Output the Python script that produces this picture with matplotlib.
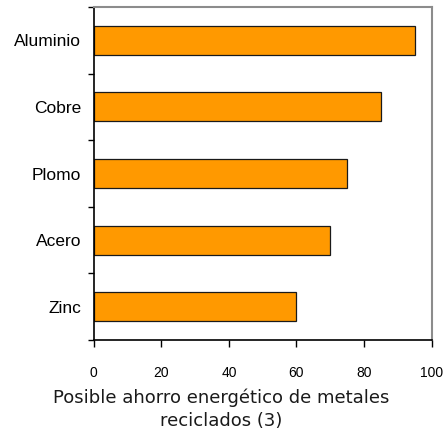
import matplotlib.pyplot as plt
import numpy as np

metales = ['Aluminio', 'Cobre', 'Plomo', 'Acero', 'Zinc']
ahorro = [95, 85, 75, 70, 60]
xticks = [0, 20, 40, 60, 80, 100]

sans = ['Liberation Sans', 'DejaVu Sans']

fig = plt.figure(figsize=(4.43, 4.28), dpi=100)
ax = fig.add_axes([0.2115, 0.2056, 0.763, 0.778])

ypos = np.arange(len(metales))
ax.barh(ypos, ahorro, height=0.435, color='#FF9900', edgecolor='#1a1a1a', linewidth=0.9, zorder=2)

ax.set_xlim(0, 100)
ax.set_ylim(len(metales) - 0.5, -0.5)

# category ticks sit between bars, labels centred on bars
ax.set_yticks(np.arange(-0.5, len(metales)), minor=False)
ax.set_yticklabels([])
ax.set_yticks(ypos, minor=True)
ax.set_yticklabels(metales, minor=True, family=sans, fontsize=12.5)
ax.tick_params(axis='y', which='minor', length=0, pad=9)
ax.tick_params(axis='y', which='major', length=4, width=1, direction='out', color='black')

ax.set_xticks(xticks)
ax.set_xticklabels([str(v) for v in xticks], family=sans, fontsize=10)
ax.tick_params(axis='x', length=5, width=1, direction='out', pad=14, color='black')

for side in ['left', 'bottom']:
    ax.spines[side].set_color('black')
    ax.spines[side].set_linewidth(1.2)
for side in ['top', 'right']:
    ax.spines[side].set_color('#8c8c8c')
    ax.spines[side].set_linewidth(1.5)

fig.text(0.5, 0.044, 'Posible ahorro energético de metales\nreciclados (3)',
         ha='center', va='center', fontsize=13, family='DejaVu Sans',
         linespacing=1.3, color='#1a1a1a')

fig.savefig('out.png', dpi=100)
